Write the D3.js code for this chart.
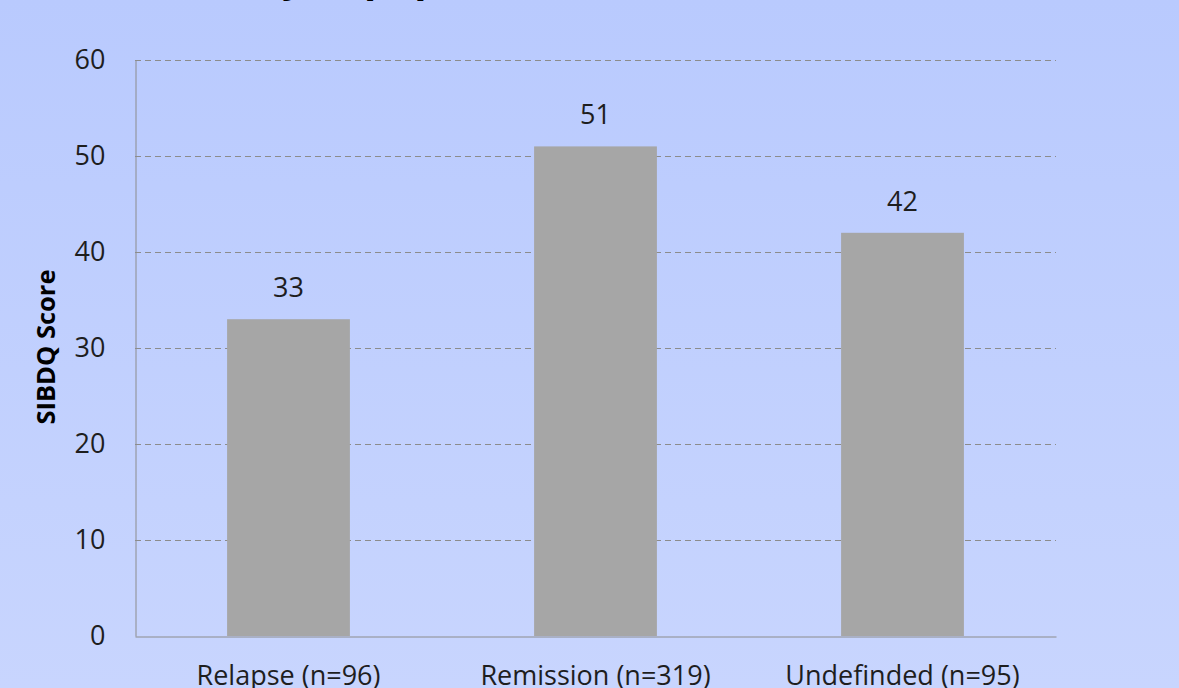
<!DOCTYPE html>
<meta charset="utf-8">
<script src="https://d3js.org/d3.v7.min.js"></script>
<style>
  body { margin: 0; overflow: hidden; }
  text { font-family: "Open Sans", "Noto Sans", sans-serif; }
</style>
<body>
<div id="chart"></div>
<script>
// groups and mean SIBDQ scores
var groups = ["Relapse (n=96)", "Remission (n=319)", "Undefinded (n=95)"];
var scores = [33, 51, 42];
var yTicks = [0, 10, 20, 30, 40, 50, 60];

var W = 1179, H = 688;
var m = { left: 135, right: 1056, top: 60, bottom: 636 };

var svg = d3.select("#chart").append("svg")
  .attr("width", W)
  .attr("height", H)
  .style("display", "block");

var grad = svg.append("defs").append("linearGradient")
  .attr("id", "bg")
  .attr("x1", 0).attr("y1", 0).attr("x2", 0).attr("y2", 1);
grad.append("stop").attr("offset", "0%").attr("stop-color", "#b9cafe");
grad.append("stop").attr("offset", "100%").attr("stop-color", "#c8d5fe");

svg.append("rect")
  .attr("width", W).attr("height", H)
  .attr("fill", "url(#bg)");

// slide title, mostly cut off above the picture
svg.append("text")
  .attr("x", 158)
  .attr("y", -8)
  .style("font-size", "40px")
  .style("font-weight", "700")
  .attr("fill", "#000")
  .text("Quality in population (n=510)");

var x = d3.scaleBand()
  .domain(groups)
  .range([m.left, m.right])
  .paddingInner(0.6)
  .paddingOuter(0.3);

var y = d3.scaleLinear()
  .domain([0, 60])
  .range([m.bottom, m.top]);

// dashed gridlines
svg.append("g")
  .selectAll("line")
  .data(yTicks.filter(function(d) { return d > 0; }))
  .enter()
  .append("line")
    .attr("x1", m.left)
    .attr("x2", m.right)
    .attr("y1", function(d) { return y(d) + 0.5; })
    .attr("y2", function(d) { return y(d) + 0.5; })
    .attr("stroke", "#8c8c8c")
    .attr("stroke-dasharray", "6,4");

// y axis
var yAxis = svg.append("g")
  .attr("transform", "translate(" + (m.left + 0.5) + ",0)")
  .call(d3.axisLeft(y).tickValues(yTicks).tickSize(0).tickPadding(30));
yAxis.select(".domain").attr("stroke", "#8c8c8c");
yAxis.selectAll("text")
  .attr("font-size", 27)
  .attr("fill", "#1e1e1e")
  .style("font-family", "'Open Sans', sans-serif");

// bars
svg.selectAll(".bar")
  .data(scores)
  .enter()
  .append("rect")
    .attr("class", "bar")
    .attr("x", function(d, i) { return x(groups[i]); })
    .attr("y", function(d) { return y(d); })
    .attr("width", x.bandwidth())
    .attr("height", function(d) { return y(0) - y(d); })
    .attr("fill", "#a6a6a6");

// value labels
svg.selectAll(".val")
  .data(scores)
  .enter()
  .append("text")
    .attr("class", "val")
    .attr("x", function(d, i) { return x(groups[i]) + x.bandwidth() / 2; })
    .attr("y", function(d) { return y(d) - 22; })
    .attr("text-anchor", "middle")
    .attr("font-size", 27)
    .attr("fill", "#1e1e1e")
    .text(function(d) { return d; });

// x axis
var xAxis = svg.append("g")
  .attr("transform", "translate(0," + (m.bottom + 0.5) + ")")
  .call(d3.axisBottom(x).tickSize(0).tickPadding(29));
xAxis.select(".domain").attr("stroke", "#8c8c8c");
xAxis.selectAll("text")
  .attr("font-size", 27)
  .attr("fill", "#1e1e1e")
  .style("font-family", "'Open Sans', sans-serif");

// y axis title
svg.append("text")
  .attr("transform", "translate(55,347) rotate(-90)")
  .attr("text-anchor", "middle")
  .style("font-size", "25.5px")
  .style("font-weight", "700")
  .attr("fill", "#000")
  .text("SIBDQ Score");
</script>
</body>
